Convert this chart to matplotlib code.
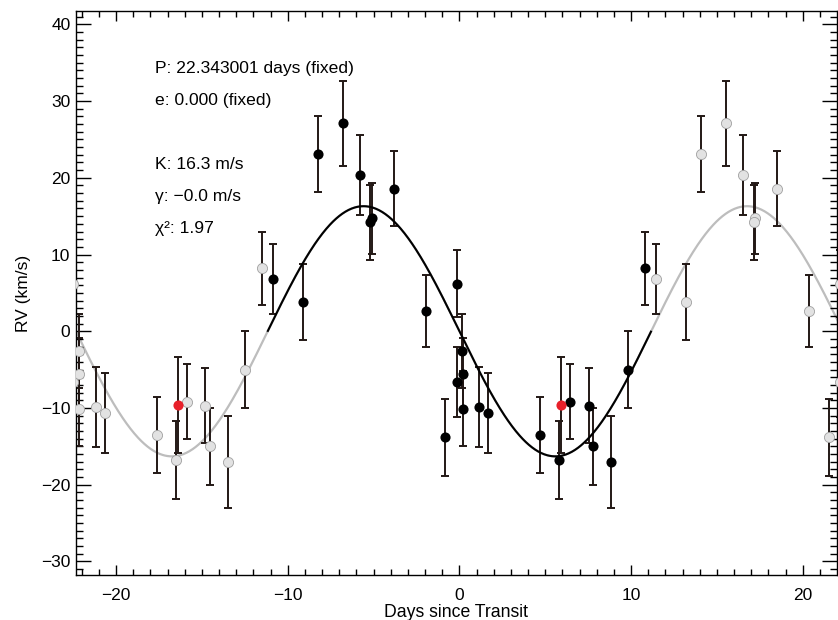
import numpy as np
import matplotlib.pyplot as plt
from matplotlib.ticker import MultipleLocator

# orbit fit
period = 22.343001
k_amp = 16.3

# phase-folded RV points: days since transit, RV (km/s), error
t_days = [-10.89, -9.12, -8.25, -6.81, -5.82, -5.10, -5.20, -3.84, -1.96,
          -0.83, -0.15, -0.15, 0.17, 0.18, 0.20, 1.16, 1.67, 4.70, 5.82,
          6.47, 7.54, 7.81, 8.84, 9.84, 10.83]
rv = [6.8, 3.8, 23.1, 27.1, 20.4, 14.7, 14.2, 18.6, 2.6,
      -13.8, 6.2, -6.6, -2.6, -5.6, -10.1, -9.9, -10.7, -13.5, -16.8,
      -9.2, -9.7, -15.0, -17.0, -5.0, 8.2]
rv_err = [4.6, 5.0, 4.9, 5.5, 5.2, 4.6, 4.9, 4.9, 4.7,
          5.0, 4.4, 4.6, 4.8, 4.7, 4.9, 5.2, 5.2, 5.0, 5.1,
          4.9, 4.9, 5.0, 6.0, 5.0, 4.8]

# the one highlighted point
t_red = [5.94]
rv_red = [-9.6]
err_red = [6.2]

labels = ["P: 22.343001 days (fixed)", "e: 0.000 (fixed)", "",
          "K: 16.3 m/s", "\u03b3: \u22120.0 m/s", "\u03c7\u00b2: 1.97"]

plt.rcParams['font.family'] = ['Liberation Sans', 'DejaVu Sans']

fig = plt.figure(figsize=(8.38, 6.2), dpi=100)
ax = fig.add_axes([0.0907, 0.0721, 0.9077, 0.9097])

t = np.array(t_days)
y = np.array(rv)
e = np.array(rv_err)
ebar = '#231815'
ms = 7.3

# sine model, black over one period, grey outside
tt = np.linspace(-period, period, 1000)
model = -k_amp * np.sin(2 * np.pi * tt / period)
ax.plot(tt, model, color='#bdbdbd', lw=1.6, zorder=1)
inner = np.abs(tt) <= period / 2
ax.plot(tt[inner], model[inner], color='black', lw=1.5, zorder=3)

# repeated copies one period either side
for shift in (-period, period):
    ax.errorbar(t + shift, y, yerr=e, fmt='none', ecolor=ebar,
                elinewidth=1.4, capsize=3, capthick=1.4, zorder=2)
    ax.plot(t + shift, y, 'o', ms=ms, mfc='#e2e2e2', mec='#a0a0a0',
            mew=0.6, zorder=4)
    ax.errorbar(np.array(t_red) + shift, rv_red, yerr=err_red, fmt='none',
                ecolor=ebar, elinewidth=1.4, capsize=3, capthick=1.4, zorder=2)
    ax.plot(np.array(t_red) + shift, rv_red, 'o', ms=ms, color='#e8202a',
            mec='none', zorder=5)

ax.errorbar(t, y, yerr=e, fmt='none', ecolor=ebar, elinewidth=1.4,
            capsize=3, capthick=1.4, zorder=2)
ax.plot(t, y, 'o', ms=ms, color='black', mec='none', zorder=4)
ax.errorbar(t_red, rv_red, yerr=err_red, fmt='none', ecolor=ebar,
            elinewidth=1.4, capsize=3, capthick=1.4, zorder=2)
ax.plot(t_red, rv_red, 'o', ms=ms, color='#e8202a', mec='none', zorder=5)

ax.set_xlim(-22.34, 21.98)
ax.set_ylim(-31.8, 41.7)

ax.xaxis.set_major_locator(MultipleLocator(10))
ax.xaxis.set_minor_locator(MultipleLocator(1))
ax.yaxis.set_major_locator(MultipleLocator(10))
ax.yaxis.set_minor_locator(MultipleLocator(1))
ax.tick_params(axis='both', which='both', direction='in', top=True,
               right=True, labelsize=12.5, width=1.0, color='black')
ax.tick_params(axis='x', which='major', length=7.5, pad=9)
ax.tick_params(axis='x', which='minor', length=4)
ax.tick_params(axis='y', which='major', length=10.5, pad=4)
ax.tick_params(axis='y', which='minor', length=5)
for sp in ax.spines.values():
    sp.set_linewidth(1.0)

ax.set_xlabel("Days since Transit", fontsize=12.7, labelpad=1)
ax.set_ylabel("RV (km/s)", fontsize=12.5, labelpad=7)

y0 = 0.890
for i, s in enumerate(labels):
    if s:
        ax.text(0.104, y0 - i * 0.0565, s, transform=ax.transAxes,
                fontsize=12.6, va='baseline', ha='left')

fig.savefig("out.png", dpi=100)
